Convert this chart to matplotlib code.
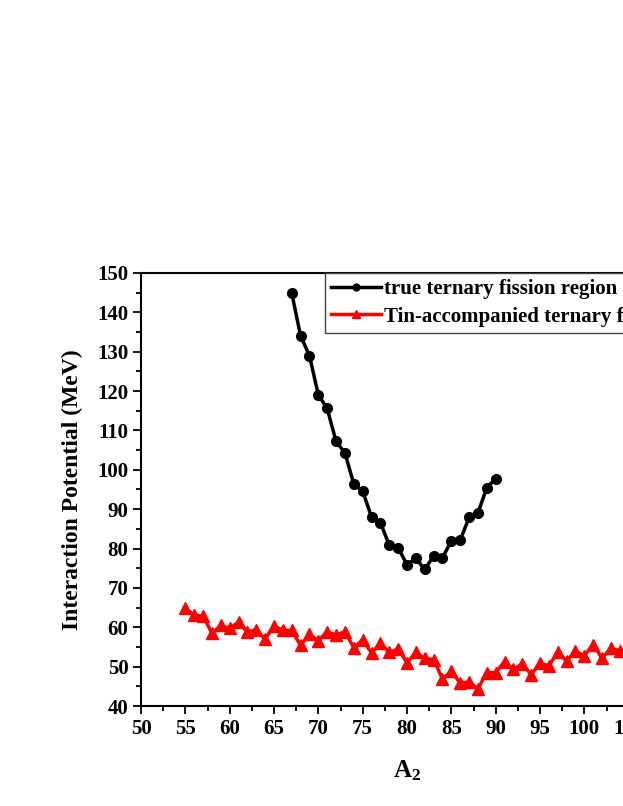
import matplotlib.pyplot as plt
import numpy as np

# A2 and interaction potential (MeV)
a2_true = list(range(67, 91))
v_true = [144.9, 134.0, 129.0, 119.0, 115.6, 107.2, 104.3, 96.4, 94.6, 88.0,
          86.6, 80.8, 80.2, 75.9, 77.5, 74.7, 78.1, 77.7, 81.9, 82.1,
          87.9, 89.0, 95.5, 97.7]

a2_tin = list(range(55, 105))
v_tin = [64.8, 63.1, 62.8, 58.5, 60.5, 59.7, 61.3, 58.8, 59.4, 57.0,
         60.4, 59.2, 59.2, 55.4, 58.2, 56.6, 58.9, 58.0, 58.9, 54.8,
         56.8, 53.5, 55.9, 53.6, 54.5, 51.0, 53.6, 52.1, 51.8, 46.9,
         48.8, 45.8, 46.1, 44.4, 48.5, 48.5, 51.3, 49.3, 50.7, 48.0,
         50.9, 50.2, 53.6, 51.4, 53.9, 52.8, 55.6, 52.1, 54.7, 54.0]

labels = ["true ternary fission region", "Tin-accompanied ternary fission region"]

plt.rcParams['font.family'] = ['Liberation Serif', 'DejaVu Serif']
plt.rcParams['font.weight'] = 'bold'
plt.rcParams['mathtext.fontset'] = 'custom'
plt.rcParams['mathtext.rm'] = 'Liberation Serif:bold'
plt.rcParams['mathtext.it'] = 'Liberation Serif:bold'
plt.rcParams['mathtext.bf'] = 'Liberation Serif:bold'

fig = plt.figure(figsize=(6.23, 8.06), dpi=100)
# axes run past the right edge of the figure, as in the cropped original
ax = fig.add_axes([141/623, 100/806, 532/623, 433/806])

ax.plot(a2_true, v_true, '-o', color='black', lw=2.5, ms=7, label=labels[0])
ax.plot(a2_tin, v_tin, '-^', color='red', lw=2.5, ms=8, label=labels[1])

ax.set_xlim(50, 110)
ax.set_ylim(40, 150)
ax.set_xticks(np.arange(50, 111, 5))
ax.set_xticks(np.arange(50, 111, 2.5), minor=True)
ax.set_yticks(np.arange(40, 151, 10))
ax.set_yticks(np.arange(40, 151, 5), minor=True)
ax.tick_params(which='both', direction='out', top=False, right=False, width=1.3)
ax.tick_params(which='major', length=6, labelsize=15, pad=3)
ax.tick_params(which='minor', length=3.5)
for s in ax.spines.values():
    s.set_linewidth(1.5)

ax.set_xlabel("A$_2$", fontsize=18, fontweight='bold', labelpad=14)
ax.set_ylabel("Interaction Potential (MeV)", fontsize=17, fontweight='bold', labelpad=10)

leg = ax.legend(loc='upper left', bbox_to_anchor=(184/532, 1.0), borderaxespad=0,
                fancybox=False, framealpha=1, edgecolor='#444444',
                prop={'size': 15, 'weight': 'bold'}, handlelength=2.4,
                handletextpad=0.15, markerscale=0.7, borderpad=0.3,
                labelspacing=0.35)
leg.get_frame().set_linewidth(1.0)

fig.savefig("out.png", dpi=100)
